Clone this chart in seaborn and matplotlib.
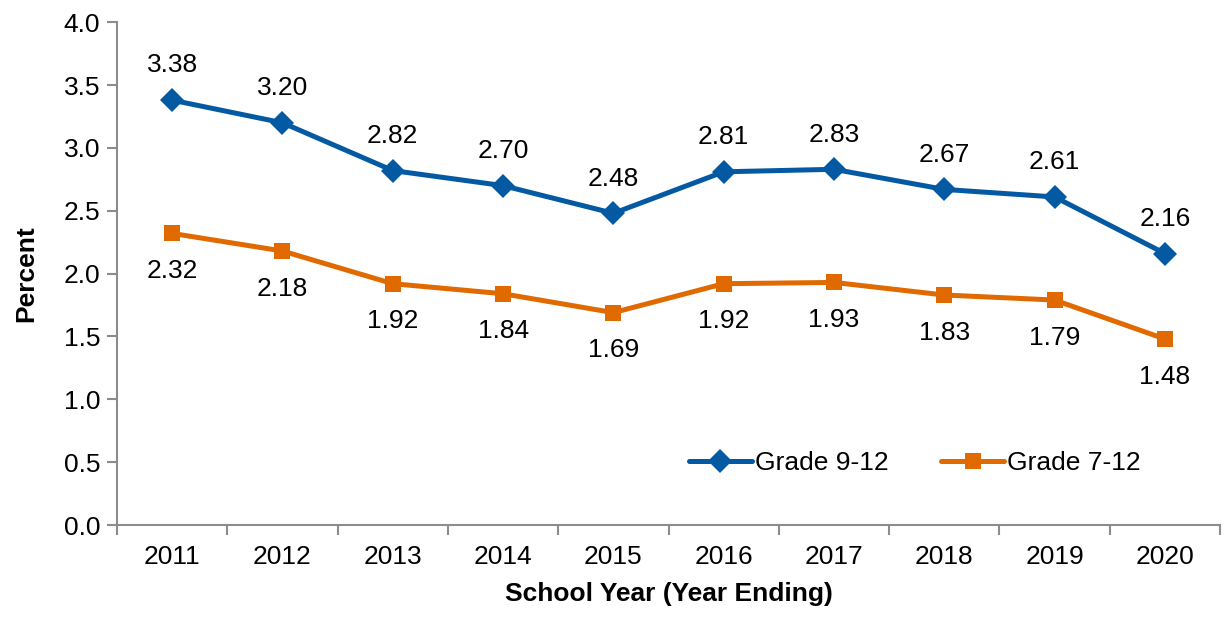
import matplotlib.pyplot as plt
import matplotlib.ticker as ticker
import numpy as np
import pandas as pd
import seaborn as sns

years = ["2011", "2012", "2013", "2014", "2015", "2016", "2017", "2018", "2019", "2020"]
grade_9_12 = [3.38, 3.20, 2.82, 2.70, 2.48, 2.81, 2.83, 2.67, 2.61, 2.16]
grade_7_12 = [2.32, 2.18, 1.92, 1.84, 1.69, 1.92, 1.93, 1.83, 1.79, 1.48]

BLUE = "#0459A3"
ORANGE = "#E06A00"
GRAY = "#8C8C8C"
FS = 19


def main():
    sns.set_style("white")
    plt.rcParams["font.family"] = ["Liberation Sans", "DejaVu Sans"]
    plt.rcParams["text.color"] = "black"
    plt.rcParams["axes.labelcolor"] = "black"

    pos = np.arange(len(years))
    df = pd.DataFrame({
        "pos": np.concatenate([pos, pos]),
        "value": grade_9_12 + grade_7_12,
        "series": ["Grade 9-12"] * len(years) + ["Grade 7-12"] * len(years),
    })

    fig = plt.figure(figsize=(12.25, 6.17), dpi=100)
    ax = fig.add_axes([0.0955, 0.149, 0.9005, 0.815])

    sns.lineplot(data=df, x="pos", y="value", hue="series", style="series",
                 palette={"Grade 9-12": BLUE, "Grade 7-12": ORANGE},
                 markers={"Grade 9-12": "D", "Grade 7-12": "s"},
                 dashes=False, linewidth=3.6, markersize=12,
                 markeredgewidth=0, ax=ax)

    for x, v in zip(pos, grade_9_12):
        ax.annotate(f"{v:.2f}", (x, v), xytext=(0, 25), textcoords="offset points",
                    ha="center", va="center", fontsize=FS)
    for x, v in zip(pos, grade_7_12):
        ax.annotate(f"{v:.2f}", (x, v), xytext=(0, -27), textcoords="offset points",
                    ha="center", va="center", fontsize=FS)

    ax.set_xlim(-0.5, len(years) - 0.5)
    ax.set_ylim(0, 4.0)
    ax.yaxis.set_major_locator(ticker.MultipleLocator(0.5))
    ax.yaxis.set_major_formatter(ticker.FormatStrFormatter("%.1f"))
    ax.set_xticks(pos)
    ax.set_xticklabels(years)
    ax.set_xticks(np.arange(-0.5, len(years), 1.0), minor=True)
    ax.tick_params(axis="x", which="major", length=0, labelsize=FS, pad=14,
                   labelcolor="black")
    ax.tick_params(axis="x", which="minor", length=7, width=1.5, color=GRAY,
                   direction="out", bottom=True)
    ax.tick_params(axis="y", which="major", length=7, width=1.5, color=GRAY,
                   direction="out", left=True, labelsize=FS, pad=5,
                   labelcolor="black")

    for side in ["top", "right"]:
        ax.spines[side].set_visible(False)
    for side in ["left", "bottom"]:
        ax.spines[side].set_color(GRAY)
        ax.spines[side].set_linewidth(1.5)

    ax.set_xlabel("School Year (Year Ending)", fontsize=FS, fontweight="bold", labelpad=10)
    ax.set_ylabel("Percent", fontsize=FS, fontweight="bold", labelpad=18)

    handles, labels = ax.get_legend_handles_labels()
    ax.legend(handles, labels, loc="center", bbox_to_anchor=(0.723, 0.123), ncol=2,
              frameon=False, fontsize=FS, handlelength=2.4, handletextpad=0.1,
              columnspacing=2.0)

    fig.savefig("out.png", dpi=100)


if __name__ == "__main__":
    main()
